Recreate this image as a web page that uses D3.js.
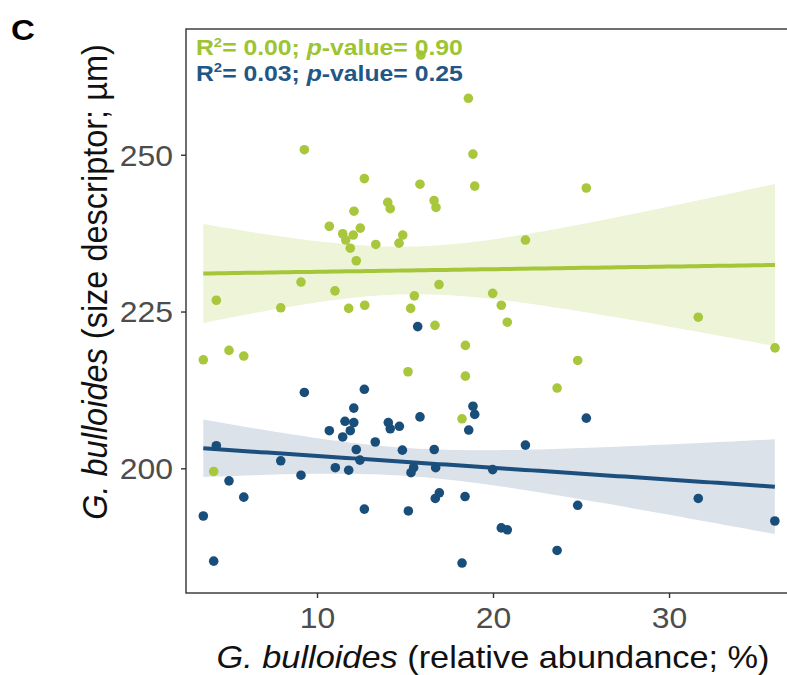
<!DOCTYPE html>
<html>
<head>
<meta charset="utf-8">
<script src="https://cdn.jsdelivr.net/npm/d3@7"></script>
<style>
  html, body { margin: 0; padding: 0; background: #fff; }
  svg { display: block; }
</style>
</head>
<body>
<div id="chart"></div>
<script>
// Panel C: G. bulloides size vs relative abundance, two size descriptors, each with lm fit + 95% CI

// green series (upper size descriptor); the last point sits under the first stats line
const greenX = [18.60, 9.28, 18.86, 18.96, 12.69, 15.85, 14.02, 14.16, 16.65, 16.76,
  12.10, 10.70, 12.46, 11.46, 12.06, 11.63, 14.87, 14.66, 13.34, 11.89,
  12.23, 25.30, 21.84, 9.09, 11.02, 16.93, 19.98, 4.28, 7.94, 11.80,
  12.71, 15.53, 15.32, 16.70, 3.54, 5.00, 5.84, 18.43, 15.17, 18.43,
  18.24, 20.47, 20.81, 31.66, 36.02, 24.81, 23.64, 4.13, 15.90];
const greenY = [259.0, 250.8, 250.1, 245.0, 246.2, 245.3, 242.4, 241.4, 242.7, 241.6,
  241.0, 238.6, 238.3, 237.4, 237.2, 236.4, 237.2, 235.9, 235.7, 235.1,
  233.1, 244.7, 236.4, 229.7, 228.3, 229.3, 227.9, 226.8, 225.6, 225.5,
  226.0, 227.5, 225.5, 222.8, 217.3, 218.8, 217.9, 219.6, 215.4, 214.7,
  207.9, 226.0, 223.3, 224.1, 219.2, 217.2, 212.8, 199.5, 265.9];

// blue series (lower size descriptor)
const blueX = [15.72, 9.28, 12.69, 12.09, 11.59, 12.09, 11.89, 11.46, 10.70, 14.05,
  14.16, 14.68, 15.85, 18.86, 18.96, 18.62, 13.31, 12.23, 14.85, 16.66,
  4.28, 12.44, 7.94, 11.04, 11.80, 9.09, 5.00, 5.84, 3.54, 4.13,
  12.69, 15.19, 15.34, 15.49, 16.74, 16.72, 16.95, 18.41, 18.24, 21.84,
  19.98, 24.81, 20.47, 20.81, 23.64, 31.66, 36.01, 25.30];
const blueY = [222.6, 212.1, 212.6, 209.6, 207.5, 207.3, 206.0, 205.0, 206.0, 207.3,
  206.3, 206.7, 208.2, 209.9, 208.6, 206.1, 204.2, 203.0, 202.9, 203.0,
  203.6, 201.3, 201.2, 200.1, 199.7, 198.9, 198.0, 195.4, 192.4, 185.2,
  193.5, 193.2, 199.3, 200.1, 200.1, 195.2, 196.1, 195.5, 184.9, 203.7,
  199.8, 194.1, 190.5, 190.2, 186.9, 195.2, 191.6, 208.0];

const xTicks = [10, 20, 30];
const yTicks = [200, 225, 250];
const statLines = [
  { r2: '0.00', p: '0.90', series: 'green' },
  { r2: '0.03', p: '0.25', series: 'blue' },
];

const COL = {
  green: { pt: '#a8c73c', line: '#a4c638', band: '#a4c638', text: '#9dc431' },
  blue:  { pt: '#1a4e7a', line: '#1c4f7d', band: '#4f6f8f', text: '#1f5787' },
};

const W = 787, H = 675;
const plot = { left: 186, right: 800, top: 29, bottom: 593 };
const FONT = '"Liberation Sans", Arial, Helvetica, sans-serif';
const SX = 1.1; // the source figure is a little wider than tall in its glyphs

const x = d3.scaleLinear().domain([2.557, 37.44]).range([plot.left, plot.right]);
const y = d3.scaleLinear().domain([180.12, 270.05]).range([plot.bottom, plot.top]);

const svg = d3.select('#chart').append('svg')
  .attr('width', W).attr('height', H)
  .attr('viewBox', `0 0 ${W} ${H}`);
svg.append('rect').attr('width', W).attr('height', H).attr('fill', '#fff');

// ordinary least squares with a 95% confidence band (what geom_smooth(method = lm) draws)
function lmFit(xs, ys) {
  const n = xs.length;
  const mx = d3.mean(xs), my = d3.mean(ys);
  let sxx = 0, sxy = 0;
  xs.forEach((v, i) => { sxx += (v - mx) ** 2; sxy += (v - mx) * (ys[i] - my); });
  const b = sxy / sxx, a = my - b * mx;
  let sse = 0;
  xs.forEach((v, i) => { sse += (ys[i] - (a + b * v)) ** 2; });
  const s = Math.sqrt(sse / (n - 2));
  const tcrit = 2.013;
  const [lo, hi] = d3.extent(xs);
  const grid = d3.range(0, 81).map(k => lo + (hi - lo) * k / 80);
  return grid.map(g => {
    const fitv = a + b * g;
    const se = s * Math.sqrt(1 / n + (g - mx) ** 2 / sxx);
    return { x: g, fit: fitv, lo: fitv - tcrit * se, hi: fitv + tcrit * se };
  });
}

svg.append('clipPath').attr('id', 'panel')
  .append('rect').attr('x', plot.left).attr('y', plot.top)
  .attr('width', plot.right - plot.left).attr('height', plot.bottom - plot.top);

const g = svg.append('g').attr('clip-path', 'url(#panel)');

const series = [
  { key: 'green', xs: greenX, ys: greenY },
  { key: 'blue', xs: blueX, ys: blueY },
];

const area = d3.area().x(d => x(d.x)).y0(d => y(d.lo)).y1(d => y(d.hi));
const line = d3.line().x(d => x(d.x)).y(d => y(d.fit));

series.forEach(s => { s.fit = lmFit(s.xs, s.ys); });

series.forEach(s => {
  g.append('path').attr('d', area(s.fit))
    .attr('fill', COL[s.key].band).attr('fill-opacity', 0.2);
});
series.forEach(s => {
  g.append('path').attr('d', line(s.fit))
    .attr('fill', 'none').attr('stroke', COL[s.key].line).attr('stroke-width', 4);
});
series.forEach(s => {
  g.append('g').selectAll('circle')
    .data(s.xs.map((v, i) => [v, s.ys[i]]))
    .join('circle')
    .attr('cx', d => x(d[0])).attr('cy', d => y(d[1]))
    .attr('r', 4.8).attr('fill', COL[s.key].pt);
});

// panel border (right edge falls just outside the picture)
svg.append('rect')
  .attr('x', plot.left).attr('y', plot.top)
  .attr('width', plot.right - plot.left).attr('height', plot.bottom - plot.top)
  .attr('fill', 'none').attr('stroke', '#333').attr('stroke-width', 1.4);

// axes
const yAxis = svg.append('g').attr('transform', `translate(${plot.left},0)`)
  .call(d3.axisLeft(y).tickValues(yTicks).tickSize(5).tickPadding(6).tickFormat(d3.format('d')));
const xAxis = svg.append('g').attr('transform', `translate(0,${plot.bottom})`)
  .call(d3.axisBottom(x).tickValues(xTicks).tickSize(5).tickPadding(6).tickFormat(d3.format('d')));
[yAxis, xAxis].forEach(ax => {
  ax.select('.domain').remove();
  ax.selectAll('.tick line').attr('stroke', '#333').attr('stroke-width', 1.4);
  ax.selectAll('.tick text').attr('fill', '#4d4d4d')
    .attr('font-family', FONT).attr('font-size', 29);
});
yAxis.selectAll('.tick text')
  .attr('x', null).attr('dy', null)
  .attr('dominant-baseline', 'central')
  .attr('transform', `translate(-13,0) scale(${SX},1)`);
xAxis.selectAll('.tick text')
  .attr('y', null).attr('dy', null)
  .attr('transform', `translate(0,35) scale(${SX},1)`);

// axis titles
const xt = svg.append('text')
  .attr('transform', `translate(493,668) scale(${SX},1)`)
  .attr('text-anchor', 'middle')
  .attr('font-family', FONT).attr('font-size', 31.2).attr('fill', '#111');
xt.append('tspan').attr('font-style', 'italic').text('G. bulloides');
xt.append('tspan').text(' (relative abundance; %)');

const yt = svg.append('text')
  .attr('transform', `translate(107,282) scale(${SX},1) rotate(-90)`)
  .attr('text-anchor', 'middle')
  .attr('font-family', FONT).attr('font-size', 32.5).attr('fill', '#111');
yt.append('tspan').attr('font-style', 'italic').text('G. bulloides');
yt.append('tspan').text(' (size descriptor; µm)');

// panel tag
svg.append('text')
  .attr('transform', `translate(11,40) scale(${SX},1)`)
  .attr('font-family', FONT).attr('font-weight', 700).attr('font-size', 30)
  .attr('fill', '#000').text('C');

// regression statistics
statLines.forEach((st, i) => {
  const t = svg.append('text')
    .attr('transform', `translate(196,${55 + i * 25.5}) scale(${SX},1)`)
    .attr('font-family', FONT).attr('font-weight', 700).attr('font-size', 22.5)
    .attr('fill', COL[st.series].text);
  t.append('tspan').text('R');
  t.append('tspan').attr('font-size', 13.5).attr('dy', -8.5).text('2');
  t.append('tspan').attr('dy', 8.5).text(`= ${st.r2}; `);
  t.append('tspan').attr('font-style', 'italic').text('p');
  t.append('tspan').text(`-value= ${st.p}`);
});
</script>
</body>
</html>
